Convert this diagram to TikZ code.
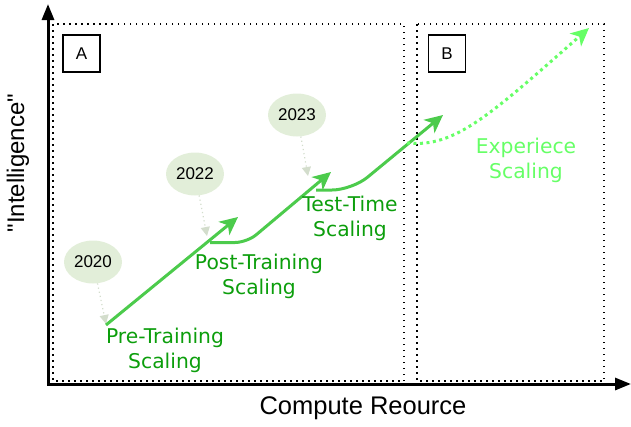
\documentclass[tikz,border=0pt]{standalone}
\usepackage{fontspec}
\setmainfont{Liberation Sans}
\newfontfamily\vera{DejaVu Sans}
\usetikzlibrary{arrows.meta,positioning,shapes.geometric}

\definecolor{lineGreen}{HTML}{4CCB4C}
\definecolor{textGreen}{HTML}{0C9E0C}
\definecolor{lightGreen}{HTML}{66FF66}
\definecolor{yearFill}{HTML}{E2EED9}
\definecolor{hintGray}{HTML}{D3DDCC}

\begin{document}
\begin{tikzpicture}
	[
	x=1pt, y=-1pt,
	axis/.style={
           {Triangle[length=16pt,width=12pt]}-{Triangle[length=16pt,width=12pt]},
           line width=3pt},
	region/.style={draw=black,line width=1.5pt,dash pattern=on 1.5pt off 4.5pt},
	tag/.style={rectangle,draw=black,line width=1.2pt,minimum size=37pt,inner sep=0pt,font=\fontsize{17}{17}\selectfont},
	year/.style={ellipse,fill=yearFill,minimum width=58pt,minimum height=43pt,inner sep=0pt,font=\fontsize{17}{17}\selectfont},
	hint/.style={
           hintGray,
           line width=1.2pt,
           dash pattern=on 1.2pt off 3pt,
           -{Triangle[length=9pt,width=9pt]}},
	trend/.style={
           lineGreen,
           line width=3pt,
           -{Stealth[length=18pt,width=17pt,inset=5pt]}},
	phase/.style={textGreen,align=center,font=\vera\fontsize{20.3}{25}\selectfont},
	]
		\useasboundingbox (0,0) rectangle (631,426);

		% axes
		\coordinate (ytop) at (48,4);
		\coordinate (origin) at (48,384);
		\coordinate (xend) at (631,384);
		\draw[axis] (ytop) -- (origin) -- (xend);
		\node[rotate=90,font=\fontsize{24}{24}\selectfont] (ylabel) at (18,163) {\textquotedbl Intelligence\textquotedbl};
		\node[font=\fontsize{25.5}{25.5}\selectfont] (xlabel) at (363,408) {Compute Reource};

		% regions
		\draw[region] (53,24) rectangle (404,381);
		\draw[region] (417,24) rectangle (604,381);
		\node[tag] (tagA) at (81.5,53.5) {A};
		\node[tag] (tagB) at (447,53.5) {B};

		% years
		\node[year] (y2020) at (93,262) {2020};
		\node[year] (y2022) at (195,174) {2022};
		\node[year] (y2023) at (297,115) {2023};

		% trend points
		\coordinate (preS) at (106,325);
		\coordinate (preE) at (238,217);
		\coordinate (postS) at (210,242.5);
		\coordinate (postE) at (331,172);
		\coordinate (testS) at (316,190);
		\coordinate (testE) at (443,115);
		\coordinate (expS) at (407,143);
		\coordinate (expE) at (589,28);

		% hint tips
		\coordinate (h2020) at (106,324);
		\coordinate (h2022) at (207,236);
		\coordinate (h2023) at (308,176);
		\foreach \from/\to in {y2020/h2020,y2022/h2022,y2023/h2023} \draw[hint] (\from) -- (\to);

		% scaling curves
		\draw[trend] (preS) -- (preE);
		\draw[trend,rounded corners=12pt] (postS) -- (247,242.5) -- (postE);
		\draw[trend,rounded corners=20pt] (testS) -- (352,190) -- (testE);
		\draw[trend,lightGreen,dash pattern=on 3pt off 3.5pt]
			(expS) .. controls (455,148) and (490,115) .. (expE);

		% labels
		\node[phase] (pre) at (165,350) {Pre-Training\\Scaling};
		\node[phase] (post) at (259,276) {Post-Training\\Scaling};
		\node[phase] (test) at (350,218) {Test-Time\\Scaling};
		\node[phase,lightGreen] (exp) at (526,160) {Experiece\\Scaling};

	\end{tikzpicture}
\end{document}
